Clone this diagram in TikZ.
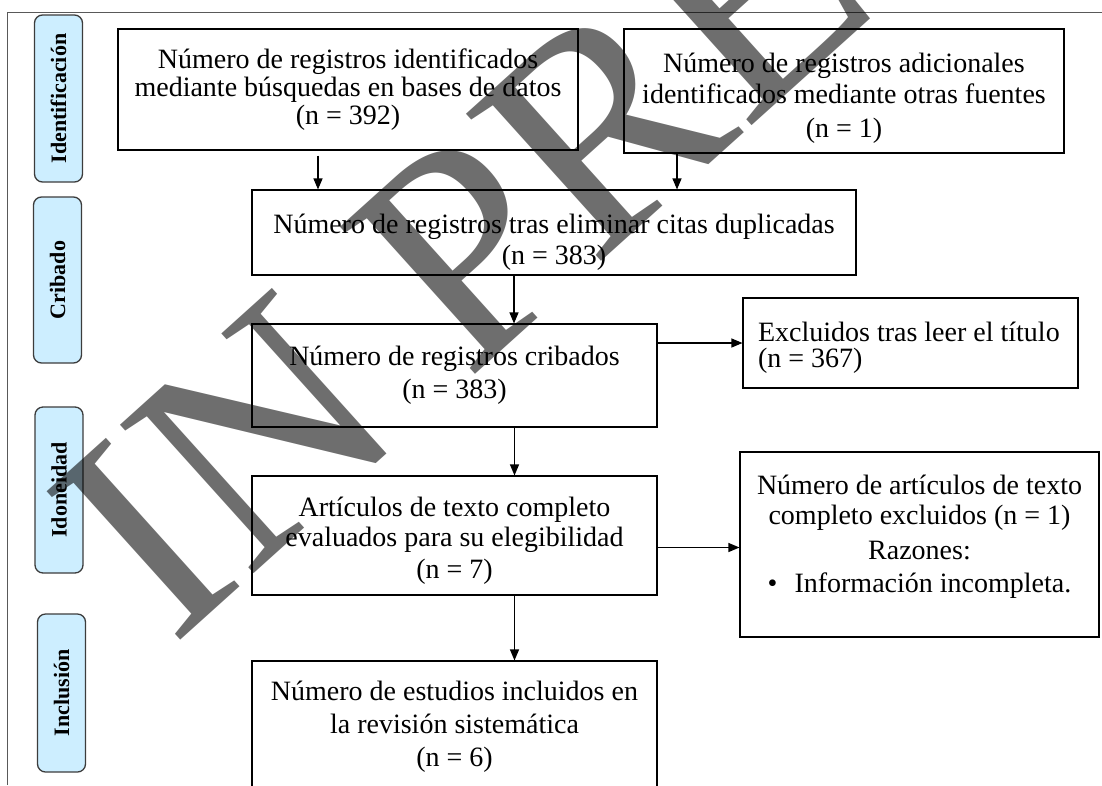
\documentclass[tikz,border=0pt]{standalone}
\usepackage{fontspec}
\setmainfont{Liberation Serif}
\usetikzlibrary{arrows.meta,positioning,backgrounds}
\definecolor{phaseblue}{HTML}{CDEEFF}
\definecolor{phaseline}{HTML}{3C3C3C}

\begin{document}
\begin{tikzpicture}[x=1pt,y=-1pt, every node/.style={font=\fontsize{28}{29}\selectfont},
    flowbox/.style={draw, line width=1.1pt, align=center, inner sep=0pt},
    phase/.style={draw=phaseline, fill=phaseblue, line width=1.3pt, rounded corners=8pt, rotate=90,
        minimum height=48pt, inner sep=0pt, font=\bfseries\fontsize{22}{24}\selectfont},
    flow/.style={-{Triangle[length=11pt,width=9pt]}, line width=1.1pt}]
    \useasboundingbox (0,0) rectangle (1102,785);
    % page frame
    \draw[black!65, line width=1pt] (7,785) -- (7,12) -- (1102,12);
    % phases
    \foreach \nm/\lbl/\x/\y/\len in {ident/Identificación/58.5/98.5/167, crib/Cribado/57.5/280/166,
        idon/Idoneidad/59/490/166, inclu/Inclusión/61.5/693/158}{
        \node[phase, minimum width=\len pt] (\nm) at (\x,\y) {\lbl};
    }
    % flow boxes
    \node[flowbox, minimum width=460pt, minimum height=121pt] (db) at (348,89.5)
        {Número de registros identificados\\[-1pt] mediante búsquedas en bases de datos\\[-1pt] (n = 392)};
    \node[flowbox, minimum width=440pt, minimum height=124pt] (other) at (844,91)
        {\rule{0pt}{34pt}Número de registros adicionales\\[2pt] identificados mediante otras fuentes\\[5pt] (n = 1)};
    \node[flowbox, minimum width=604pt, minimum height=85pt] (dedup) at (554,232.5)
        {\rule{0pt}{39pt}Número de registros tras eliminar citas duplicadas\\[2pt] (n = 383)};
    \node[flowbox, minimum width=405pt, minimum height=103pt] (screen) at (454.5,375.5)
        {Número de registros cribados\\[4pt] (n = 383)};
    \node[flowbox, text width=305pt, align=flush left, inner xsep=15pt, minimum height=90pt] (extitle) at (910.5,343)
        {\rule{0pt}{29pt}Excluidos tras leer el título\\[-3pt] (n = 367)};
    \node[flowbox, minimum width=405pt, minimum height=119pt] (full) at (454.5,535.5)
        {\rule{0pt}{30pt}Artículos de texto completo\\[1pt] evaluados para su elegibilidad\\[3pt] (n = 7)};
    \node[flowbox, minimum width=359pt, minimum height=185pt] (exfull) at (919.5,544.5)
        {Número de artículos de texto\\[1pt] completo excluidos (n = 1)\\[6pt] Razones:\\[4pt]
         \textbullet\hspace{17pt}Información incompleta.\rule[-22pt]{0pt}{0pt}};
    \node[flowbox, minimum width=405pt, minimum height=132pt] (studies) at (454.5,727)
        {Número de estudios incluidos en\\[4pt] la revisión sistemática\\[4pt] (n = 6)};
    % arrows
    \draw[flow, shorten <=5pt] ([xshift=-30pt]db.south) -- ([xshift=-30pt]db.south |- dedup.north);
    \draw[flow] ([xshift=-167pt]other.south) -- ([xshift=-167pt]other.south |- dedup.north);
    \draw[flow] ([xshift=-40pt]dedup.south) -- ([xshift=-40pt]dedup.south |- screen.north);
    \draw[flow] (extitle.west -| screen.east) -- (extitle.west);
    \draw[flow] ([xshift=60pt]screen.south) -- ([xshift=60pt]screen.south |- full.north);
    \draw[flow] ([yshift=-3pt]exfull.west -| full.east) -- ([yshift=-3pt]exfull.west);
    \draw[flow] ([xshift=60pt]full.south) -- ([xshift=60pt]full.south |- studies.north);
    % watermark
    \node[text=black, text opacity=0.57, rotate=42, inner sep=0pt, anchor=base west,
        font=\fontsize{305}{305}\selectfont] (stamp) at (172,648) {IN PRESS};
\end{tikzpicture}
\end{document}
